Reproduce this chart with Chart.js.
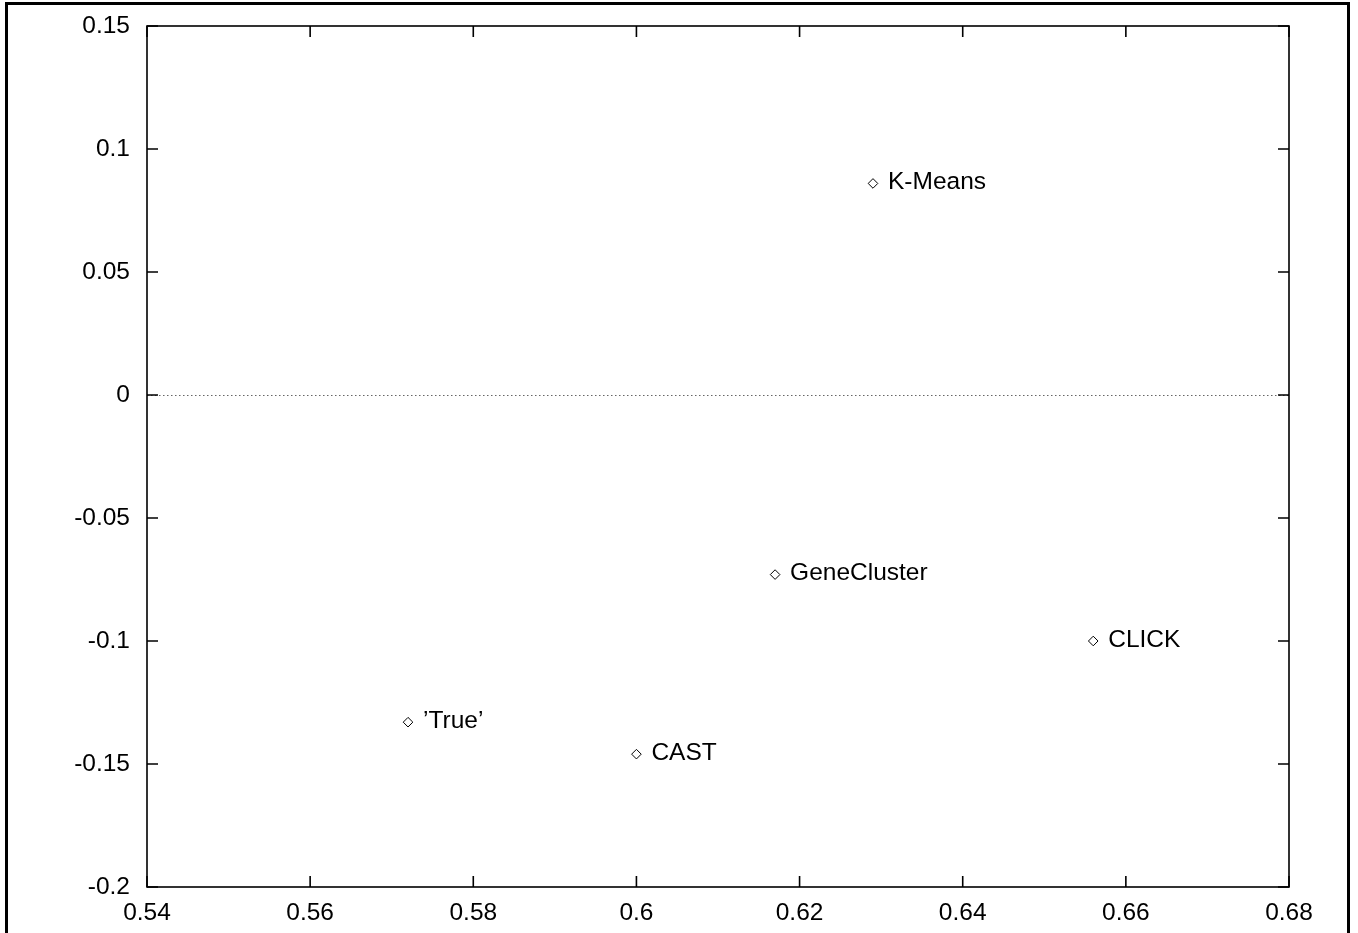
<!DOCTYPE html>
<html>
<head>
<meta charset="utf-8">
<script src="https://cdn.jsdelivr.net/npm/chart.js@4/dist/chart.umd.min.js"></script>
<style>
  html, body { margin: 0; padding: 0; background: #fff; }
  canvas { display: block; }
</style>
</head>
<body>
<canvas id="plot" width="1358" height="933"></canvas>
<script>
// values
const methods = ["K-Means", "GeneCluster", "CLICK", "\u2019True\u2019", "CAST"];
const xValues = [0.629, 0.617, 0.656, 0.572, 0.600];
const yValues = [0.086, -0.073, -0.100, -0.133, -0.146];

const xRange = [0.54, 0.68];
const xStep = 0.02;
const yRange = [-0.2, 0.15];
const yStep = 0.05;

const FONT = "'Liberation Sans', Arial, Helvetica, sans-serif";
const FONT_SIZE = 24.5;

function fmt(v){
    return String(parseFloat(Number(v).toFixed(2)));
}

// gnuplot look: frame, inward ticks on all sides, dotted zero axis, point names
const gnuplotLook = {
    id: "gnuplotLook",
    beforeDatasetsDraw: function(chart){
        const ctx = chart.ctx;
        const a = chart.chartArea;
        const xs = chart.scales.x;
        const ys = chart.scales.y;
        ctx.save();

        // outer page frame
        ctx.strokeStyle = "#000";
        ctx.lineWidth = 3;
        ctx.beginPath();
        ctx.moveTo(6.5, 940);
        ctx.lineTo(6.5, 3.5);
        ctx.lineTo(1348.5, 3.5);
        ctx.lineTo(1348.5, 940);
        ctx.stroke();

        // zero axis
        const y0 = ys.getPixelForValue(0);
        ctx.strokeStyle = "#666";
        ctx.lineWidth = 1;
        ctx.setLineDash([1.5, 2.5]);
        ctx.beginPath();
        ctx.moveTo(a.left, Math.round(y0) + 0.5);
        ctx.lineTo(a.right, Math.round(y0) + 0.5);
        ctx.stroke();
        ctx.setLineDash([]);

        // plot border
        ctx.strokeStyle = "#000";
        ctx.lineWidth = 1.6;
        ctx.strokeRect(a.left, a.top, a.right - a.left, a.bottom - a.top);

        // inward ticks
        const tl = 11;
        ctx.beginPath();
        xs.ticks.forEach(function(t){
            const px = xs.getPixelForValue(t.value);
            ctx.moveTo(px, a.bottom); ctx.lineTo(px, a.bottom - tl);
            ctx.moveTo(px, a.top); ctx.lineTo(px, a.top + tl);
        });
        ys.ticks.forEach(function(t){
            const py = ys.getPixelForValue(t.value);
            ctx.moveTo(a.left, py); ctx.lineTo(a.left + tl, py);
            ctx.moveTo(a.right, py); ctx.lineTo(a.right - tl, py);
        });
        ctx.stroke();
        ctx.restore();
    },
    afterDatasetsDraw: function(chart){
        const ctx = chart.ctx;
        const meta = chart.getDatasetMeta(0);
        ctx.save();
        ctx.fillStyle = "#000";
        ctx.font = FONT_SIZE + "px " + FONT;
        ctx.textAlign = "left";
        ctx.textBaseline = "alphabetic";
        meta.data.forEach(function(pt, i){
            ctx.fillText(methods[i], pt.x + 15, pt.y + 5.5);
        });
        ctx.restore();
    }
};

const points = xValues.map(function(x, i){ return {x: x, y: yValues[i]}; });

new Chart(document.getElementById("plot").getContext("2d"), {
    type: "scatter",
    data: {
        datasets: [{
            label: "methods",
            data: points,
            pointStyle: "rectRot",
            pointRadius: 4.8,
            pointBackgroundColor: "#fff",
            pointBorderColor: "#000",
            pointBorderWidth: 1
        }]
    },
    options: {
        responsive: false,
        animation: false,
        layout: { padding: { left: 0, right: 69, top: 26, bottom: 0 } },
        plugins: {
            legend: { display: false },
            tooltip: { enabled: false }
        },
        scales: {
            x: {
                type: "linear",
                min: xRange[0],
                max: xRange[1],
                grid: { display: false, drawTicks: false },
                border: { display: false },
                afterFit: function(s){
                    s.height = 46;
                    s.paddingLeft = 0;
                    s.paddingRight = 0;
                },
                ticks: {
                    stepSize: xStep,
                    padding: 12,
                    color: "#000",
                    font: { family: FONT, size: FONT_SIZE },
                    maxRotation: 0,
                    callback: function(v){ return fmt(v); }
                }
            },
            y: {
                type: "linear",
                min: yRange[0],
                max: yRange[1],
                grid: { display: false, drawTicks: false },
                border: { display: false },
                afterFit: function(s){
                    s.width = 147;
                    s.paddingTop = 0;
                    s.paddingBottom = 0;
                },
                ticks: {
                    stepSize: yStep,
                    padding: 17,
                    color: "#000",
                    font: { family: FONT, size: FONT_SIZE },
                    callback: function(v){ return fmt(v); }
                }
            }
        }
    },
    plugins: [gnuplotLook]
});
</script>
</body>
</html>
